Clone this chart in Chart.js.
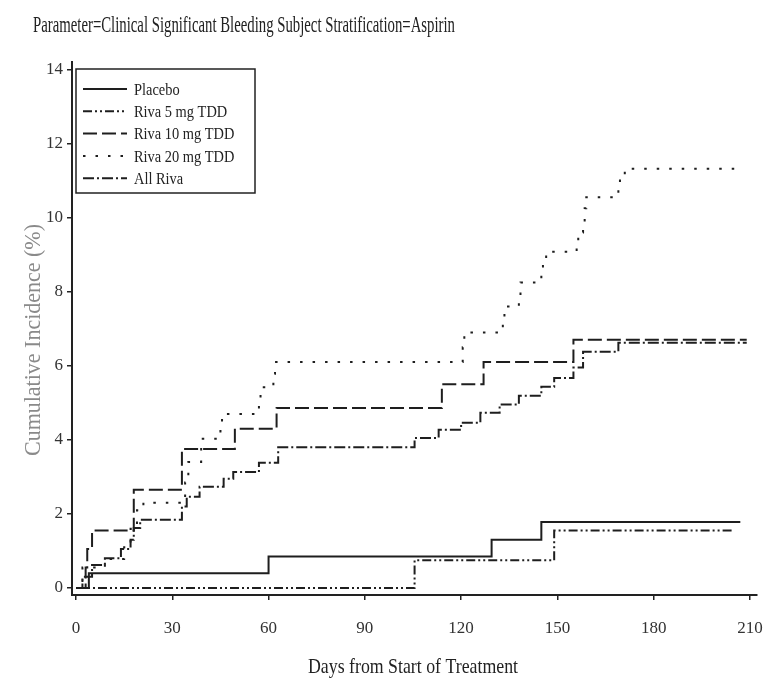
<!DOCTYPE html>
<html>
<head>
<meta charset="utf-8">
<script src="https://cdn.jsdelivr.net/npm/chart.js@4.4.0/dist/chart.umd.min.js"></script>
<style>
html, body { margin: 0; padding: 0; background: #fff; }
#grafico { display: block; }
</style>
</head>
<body>
<canvas id="grafico" width="767" height="681"></canvas>
<script>
var titulo = 'Parameter=Clinical Significant Bleeding Subject Stratification=Aspirin';
var tituloX = 'Days from Start of Treatment';
var tituloY = 'Cumulative Incidence (%)';

var grupos = ['Placebo', 'Riva 5 mg TDD', 'Riva 10 mg TDD', 'Riva 20 mg TDD', 'All Riva'];

// day of each step and cumulative incidence (%) after it
var placeboDias = [0, 4, 60, 129.5, 145, 207];
var placeboInc  = [0, 0.4, 0.85, 1.3, 1.78, 1.78];

var riva5Dias = [0, 105.5, 149, 205];
var riva5Inc  = [0, 0.75, 1.55, 1.55];

var riva10Dias = [0, 3, 3.5, 5, 18, 33, 49.5, 62.5, 114, 127, 155, 209];
var riva10Inc  = [0, 0.55, 1.05, 1.55, 2.65, 3.75, 4.3, 4.86, 5.5, 6.1, 6.7, 6.7];

var riva20Dias = [0, 2, 9, 15, 17, 19, 21, 34, 35, 39, 45, 45.5, 57, 57.5, 61.5, 62,
                  120.5, 121, 133, 133.5, 138, 138.5, 145, 145.5, 146.5, 156, 156.5, 158, 158.5, 159,
                  169, 169.5, 171, 207];
var riva20Inc  = [0, 0.55, 0.78, 1.1, 1.6, 2.1, 2.3, 2.85, 3.4, 4.03, 4.24, 4.7, 5.0, 5.42, 5.78, 6.1,
                  6.5, 6.9, 7.3, 7.6, 7.9, 8.25, 8.5, 8.85, 9.08, 9.25, 9.6, 9.85, 10.25, 10.55,
                  10.75, 11.1, 11.32, 11.32];

var todosDias = [0, 2, 5, 9, 14, 17, 18, 20, 33, 34.5, 38.5, 46, 49, 57, 63,
                 105.5, 113, 120, 126, 132, 138, 145, 149, 155, 158, 169, 209];
var todosInc  = [0, 0.3, 0.62, 0.8, 1.05, 1.3, 1.62, 1.84, 2.2, 2.46, 2.73, 2.95, 3.13, 3.38, 3.8,
                 4.05, 4.27, 4.46, 4.73, 4.95, 5.19, 5.43, 5.67, 5.95, 6.38, 6.62, 6.62];

var ticksX = [0, 30, 60, 90, 120, 150, 180, 210];
var ticksY = [0, 2, 4, 6, 8, 10, 12, 14];

var corLinha = '#1e1e1e';
var fonteSerif = '"Liberation Serif", "Times New Roman", serif';

var montarPontos = function(dias, inc){
	var pontos = [];
	for (i = 0; i < dias.length; i++) {
		pontos.push({x: dias[i], y: inc[i]});
	}
	return pontos;
};

var montarSerie = function(nome, dias, inc, tracejado){
	return {
		label: nome,
		data: montarPontos(dias, inc),
		borderColor: corLinha,
		borderWidth: 2,
		borderDash: tracejado,
		stepped: 'before',
		pointRadius: 0,
		fill: false
	};
};

// text squeezed horizontally to the width it has in the picture
var textoComprimido = function(ctx, texto, x, y, largura, fonte){
	ctx.save();
	ctx.font = fonte;
	var w = ctx.measureText(texto).width;
	ctx.translate(x, y);
	ctx.scale(largura / w, 1);
	ctx.fillText(texto, 0, 0);
	ctx.restore();
};

var textosPlugin = {
	id: 'textos',
	afterDraw: function(chart){
		var ctx = chart.ctx;
		ctx.save();
		ctx.textAlign = 'left';
		ctx.textBaseline = 'alphabetic';
		ctx.fillStyle = '#222';
		textoComprimido(ctx, titulo, 33, 32, 422, '23px ' + fonteSerif);
		textoComprimido(ctx, tituloX, 308, 673, 210, '22px ' + fonteSerif);

		ctx.save();
		ctx.translate(40, 456);
		ctx.rotate(-Math.PI / 2);
		ctx.fillStyle = '#8a8a8a';
		textoComprimido(ctx, tituloY, 0, 0, 232, '23px ' + fonteSerif);
		ctx.restore();

		// legend box inside the plot
		var caixa = {x: 76, y: 69, w: 179, h: 124};
		ctx.strokeStyle = '#222';
		ctx.lineWidth = 1.5;
		ctx.setLineDash([]);
		ctx.strokeRect(caixa.x, caixa.y, caixa.w, caixa.h);

		var series = chart.data.datasets;
		for (i = 0; i < series.length; i++) {
			var yLinha = 89 + i * 22.3;
			ctx.beginPath();
			ctx.setLineDash(series[i].borderDash || []);
			ctx.lineWidth = 2;
			ctx.strokeStyle = corLinha;
			ctx.moveTo(83, yLinha);
			ctx.lineTo(127, yLinha);
			ctx.stroke();
			ctx.fillStyle = '#222';
			ctx.textBaseline = 'middle';
			ctx.save();
			ctx.font = '16px ' + fonteSerif;
			ctx.translate(134, yLinha + 1);
			ctx.scale(0.9, 1.1);
			ctx.fillText(series[i].label, 0, 0);
			ctx.restore();
		}
		ctx.restore();
	}
};

var grafico = new Chart(document.getElementById('grafico'), {
	type: 'line',
	data: {
		datasets: [
			montarSerie(grupos[0], placeboDias, placeboInc, []),
			montarSerie(grupos[1], riva5Dias, riva5Inc, [9, 3, 2, 3, 2, 3]),
			montarSerie(grupos[2], riva10Dias, riva10Inc, [14, 5]),
			montarSerie(grupos[3], riva20Dias, riva20Inc, [2.5, 10]),
			montarSerie(grupos[4], todosDias, todosInc, [11, 3, 2, 3])
		]
	},
	options: {
		responsive: false,
		animation: false,
		devicePixelRatio: 1,
		layout: { padding: { top: 62, right: 10, left: 0, bottom: 0 } },
		plugins: {
			legend: { display: false },
			title: { display: false },
			tooltip: { enabled: false }
		},
		scales: {
			x: {
				type: 'linear',
				min: -1.25,
				max: 212.2,
				afterFit: function(escala){
					escala.height = 86;
					escala.paddingLeft = 0;
					escala.paddingRight = 0;
				},
				afterBuildTicks: function(escala){
					escala.ticks = ticksX.map(function(v){ return {value: v}; });
				},
				border: { display: true, color: '#222', width: 2 },
				grid: { drawOnChartArea: false, drawTicks: true, tickLength: 5, color: '#222', lineWidth: 1.5 },
				ticks: {
					includeBounds: false,
					padding: 18,
					color: '#333',
					maxRotation: 0,
					font: { family: fonteSerif, size: 17 }
				}
			},
			y: {
				type: 'linear',
				min: -0.19,
				max: 14.2,
				afterFit: function(escala){
					escala.width = 72;
					escala.paddingTop = 0;
					escala.paddingBottom = 0;
				},
				afterBuildTicks: function(escala){
					escala.ticks = ticksY.map(function(v){ return {value: v}; });
				},
				border: { display: true, color: '#222', width: 2 },
				grid: { drawOnChartArea: false, drawTicks: true, tickLength: 5, color: '#222', lineWidth: 1.5 },
				ticks: {
					includeBounds: false,
					padding: 4,
					color: '#333',
					font: { family: fonteSerif, size: 17 }
				}
			}
		}
	},
	plugins: [textosPlugin]
});
</script>
</body>
</html>
